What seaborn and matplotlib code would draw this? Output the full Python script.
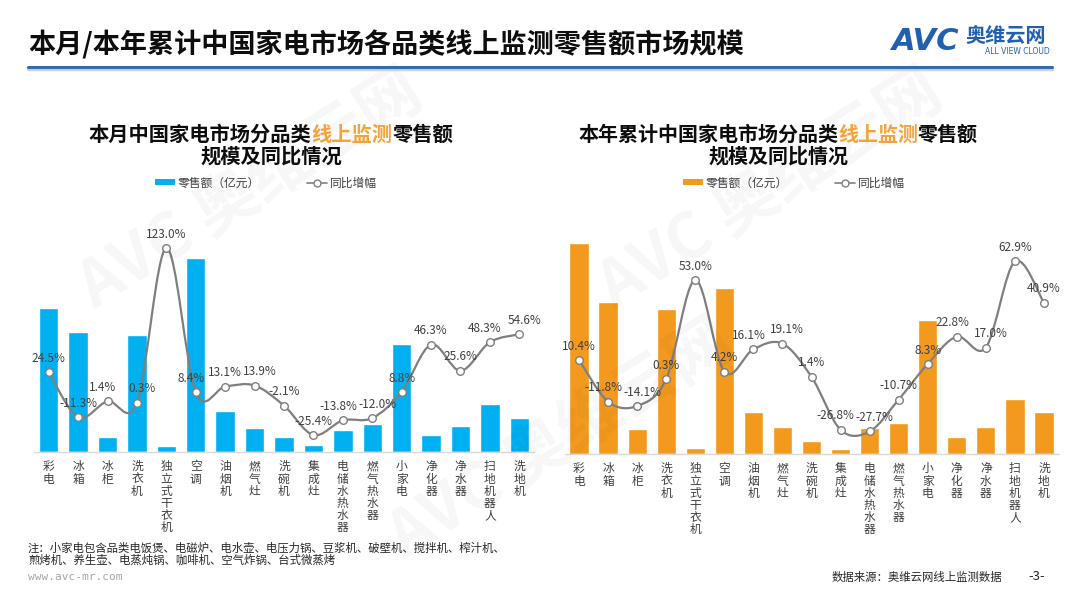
import numpy as np
import matplotlib
matplotlib.use("Agg")
import matplotlib.pyplot as plt
from matplotlib.path import Path
from matplotlib.patches import PathPatch, Patch
from matplotlib.lines import Line2D
import seaborn as sns

# categories (x axis)
categories = ['彩电', '冰箱', '冰柜', '洗衣机', '独立式干衣机', '空调', '油烟机', '燃气灶', '洗碗机',
              '集成灶', '电储水热水器', '燃气热水器', '小家电', '净化器', '净水器', '扫地机器人', '洗地机']

# monthly retail sales (亿元)
month_sales = [144, 120, 15, 117, 6, 194, 41, 24, 15, 7, 22, 28, 108, 17, 26, 48, 34]
# monthly YoY (%)
month_yoy = [24.5, -11.3, 1.4, 0.3, 123.0, 8.4, 13.1, 13.9, -2.1, -25.4, -13.8, -12.0, 8.8, 46.3, 25.6, 48.3, 54.6]

# year-to-date retail sales (亿元)
ytd_sales = [211, 152, 25, 145, 6, 166, 42, 27, 13, 5, 26, 31, 134, 17, 27, 55, 42]
# year-to-date YoY (%)
ytd_yoy = [10.4, -11.8, -14.1, 0.3, 53.0, 4.2, 16.1, 19.1, 1.4, -26.8, -27.7, -10.7, 8.3, 22.8, 17.0, 62.9, 40.9]

BLUE = '#00B0F0'
ORANGE = '#F39A1E'
HILITE = '#F5A23A'
LINE = '#7F7F7F'
TXT = '#404040'

sns.set_style('white')
plt.rcParams['font.family'] = ['Noto Sans CJK SC', 'DejaVu Sans']
plt.rcParams['axes.unicode_minus'] = False

W, H = 1080, 607
fig = plt.figure(figsize=(W / 100, H / 100), dpi=100)


def fx(px):
    return px / W


def fy(py):
    return 1 - py / H


def smooth_path(xs, ys):
    # Excel-like smoothed line: Catmull-Rom segments as cubic Beziers
    pts = np.column_stack([xs, ys]).astype(float)
    ext = np.vstack([pts[0], pts, pts[-1]])
    verts = [pts[0]]
    codes = [Path.MOVETO]
    for i in range(1, len(ext) - 2):
        p0, p1, p2, p3 = ext[i - 1], ext[i], ext[i + 1], ext[i + 2]
        verts += [p1 + (p2 - p0) / 6, p2 - (p3 - p1) / 6, p2]
        codes += [Path.CURVE4] * 3
    return Path(verts, codes)


def draw_panel(rect, sales, yoy, color, bar_top, y2lim):
    ax = fig.add_axes(rect)
    sns.barplot(x=categories, y=sales, color=color, width=0.66, ax=ax, saturation=1)
    ax.set_ylim(0, bar_top)
    ax.set_xlim(-0.5, len(categories) - 0.5)
    ax.set_yticks([])
    for s in ['top', 'left', 'right']:
        ax.spines[s].set_visible(False)
    ax.spines['bottom'].set_color('#D9D9D9')
    ax.spines['bottom'].set_linewidth(1.0)
    ax.set_xticks(range(len(categories)))
    ax.set_xticklabels(['\n'.join(c) for c in categories], fontsize=8.5, color=TXT,
                       linespacing=0.92, va='top')
    ax.tick_params(axis='x', length=0, pad=6)

    ax2 = ax.twinx()
    ax2.set_ylim(*y2lim)
    ax2.set_yticks([])
    for s in ax2.spines.values():
        s.set_visible(False)
    xs = np.arange(len(categories))
    ax2.add_patch(PathPatch(smooth_path(xs, yoy), facecolor='none', edgecolor=LINE, lw=1.6, zorder=3))
    sns.scatterplot(x=xs, y=yoy, ax=ax2, s=30, color='white', edgecolor=LINE, linewidth=1.0, zorder=4)

    # push neighbouring labels apart a little when they sit at about the same height
    py = ax2.transData.transform(np.column_stack([xs, yoy]))[:, 1]
    close = [abs(py[i] - py[i + 1]) < 14 for i in range(len(py) - 1)]
    for i, (x, v) in enumerate(zip(xs, yoy)):
        left = i > 0 and close[i - 1]
        right = i < len(close) and close[i]
        dx = 0
        if right and not left:
            dx = -3.5
        elif left and not right:
            dx = 3.5
        ax2.annotate(f'{v:.1f}%', (x, v), xytext=(dx, 10), textcoords='offset points',
                     ha='center', va='center', fontsize=8.5, color=TXT, zorder=5)
    return ax


# left panel: axes 34..534 px, baseline 452, top 200
draw_panel([fx(34), fy(452), fx(500), (452 - 200) / H], month_sales, month_yoy, BLUE, 252, (-38.9, 161.2))
# right panel: axes 564.5..1058.5 px, baseline 454, top 200
draw_panel([fx(564.5), fy(454), fx(494), (454 - 200) / H], ytd_sales, ytd_yoy, ORANGE, 254, (-39.7, 95.6))

# page title and rule
fig.text(fx(28), fy(45), '本月/本年累计中国家电市场各品类线上监测零售额市场规模', fontsize=19.5,
         fontweight='bold', color='#0D0D0D', ha='left', va='center')
fig.add_artist(Line2D([fx(28), fx(1052)], [fy(69), fy(69)], color='#D0D0D0', lw=2.5))
fig.add_artist(Line2D([fx(28), fx(1052)], [fy(67), fy(67)], color='#2E6DB4', lw=2.2))

# logo
fig.text(fx(892), fy(42), 'AVC', fontsize=22, fontweight='bold', fontstyle='italic',
         color='#2160B0', ha='left', va='center', family=['DejaVu Sans'])
fig.text(fx(965), fy(36), '奥维云网', fontsize=14.5, fontweight='bold', color='#2160B0',
         ha='left', va='center')
fig.text(fx(985), fy(52), 'ALL VIEW CLOUD', fontsize=5.5, color='#2160B0', ha='left', va='center',
         family=['DejaVu Sans'])


# panel titles, with 线上监测 highlighted
def panel_title(cx, y1, y2, before, hi, after, size):
    em = size * 100 / 72
    n = len(before) + len(hi) + len(after)
    x0 = cx - n * em / 2
    for txt, col in [(before, '#0D0D0D'), (hi, HILITE), (after, '#0D0D0D')]:
        fig.text(fx(x0), fy(y1), txt, fontsize=size, fontweight='bold', color=col, ha='left', va='center')
        x0 += len(txt) * em
    fig.text(fx(cx), fy(y2), '规模及同比情况', fontsize=size, fontweight='bold', color='#0D0D0D',
             ha='center', va='center')


panel_title(271, 134, 156, '本月中国家电市场分品类', '线上监测', '零售额', 14.6)
panel_title(778, 134, 156, '本年累计中国家电市场分品类', '线上监测', '零售额', 14.4)


# legends
def panel_legend(cx, color):
    handles = [Patch(facecolor=color, edgecolor='none'),
               Line2D([], [], color=LINE, lw=1.2, marker='o', markersize=5,
                      markerfacecolor='white', markeredgecolor=LINE)]
    fig.legend(handles, ['零售额（亿元）', '同比增幅'], loc='center', bbox_to_anchor=(fx(cx), fy(183)),
               ncol=2, frameon=False, fontsize=8.5, handlelength=1.7, handleheight=0.45,
               handletextpad=0.2, columnspacing=4.0, labelcolor=TXT)


panel_legend(266, BLUE)
panel_legend(794, ORANGE)

# watermarks
for x, y in [(250, 190), (770, 190), (560, 440)]:
    fig.text(fx(x), fy(y), 'AVC 奥维云网', fontsize=46, fontweight='bold', color='#000000', alpha=0.035,
             rotation=32, ha='center', va='center', zorder=0)

# notes and footer
fig.text(fx(28), fy(554), '注：小家电包含品类电饭煲、电磁炉、电水壶、电压力锅、豆浆机、破壁机、搅拌机、榨汁机、\n'
         '煎烤机、养生壶、电蒸炖锅、咖啡机、空气炸锅、台式微蒸烤', fontsize=8.2, color='#262626',
         ha='left', va='center', linespacing=1.05)
fig.text(fx(28), fy(577), 'www.avc-mr.com', fontsize=8, color='#A6A6A6', ha='left', va='center',
         family=['DejaVu Sans Mono'])
fig.text(fx(832), fy(577), '数据来源：奥维云网线上监测数据', fontsize=8.2, color='#262626',
         ha='left', va='center')
fig.text(fx(1028), fy(577), '-3-', fontsize=9.5, color='#262626', ha='left', va='center')

fig.savefig('out.png', dpi=100)
